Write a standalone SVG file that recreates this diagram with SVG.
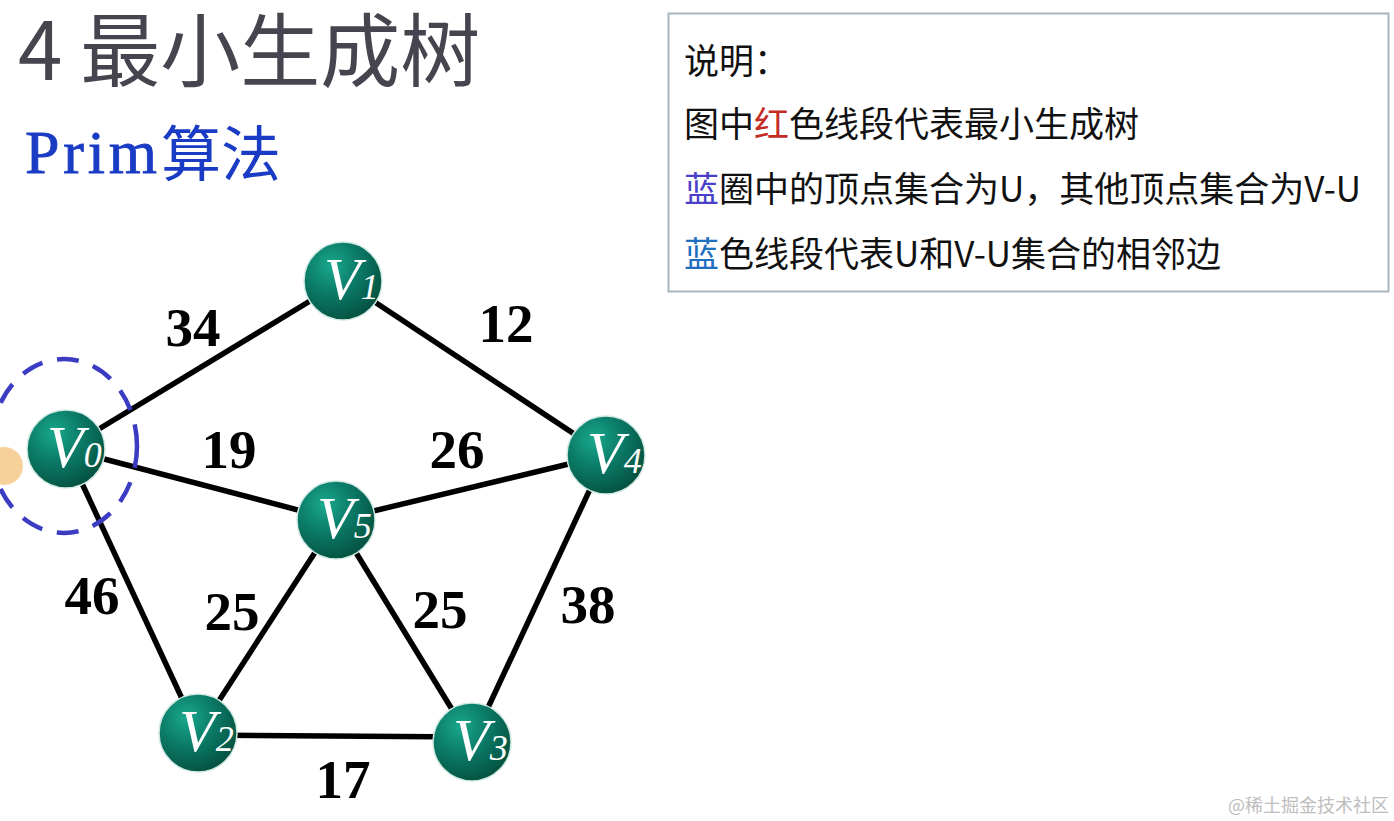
<svg xmlns="http://www.w3.org/2000/svg" width="1394" height="821" viewBox="0 0 1394 821">
<defs>
<radialGradient id="ball" cx="0.35" cy="0.3" r="0.75">
<stop offset="0" stop-color="#1aa88e"/>
<stop offset="0.45" stop-color="#0b7d69"/>
<stop offset="1" stop-color="#04503f"/>
</radialGradient>
<style>
.edge{stroke:#000;stroke-width:5.5;fill:none}
.ball{fill:url(#ball);stroke:#cfe9e2;stroke-width:1.5}
.vl{font-family:"Liberation Serif",serif;font-style:italic;fill:#fff}
.vl .v{font-size:60px}
.vl .d{font-size:36px}
.w{font-family:"Liberation Serif",serif;font-weight:bold;font-size:55px;fill:#000;text-anchor:middle}
.note{font-family:"Noto Sans CJK SC",sans-serif;font-size:35px;fill:#111}
</style>
</defs>
<rect width="1394" height="821" fill="#fff"/>
<g id="title">
<text x="18" y="80" font-family="'Noto Sans CJK SC',sans-serif" font-size="80" fill="#45454f">4 最小生成树</text>
</g>
<g id="subtitle" fill="#1a3bc4">
<text x="25" y="173" font-family="'Liberation Serif',serif" font-size="62" stroke="#1a3bc4" stroke-width="0.8" textLength="132" lengthAdjust="spacing">Prim</text>
<text x="161" y="176" font-family="'Noto Sans CJK SC',sans-serif" font-size="60">算法</text>
</g>
<g id="legend">
<rect x="668.5" y="13.5" width="720" height="278" fill="#fff" stroke="#a7b6bd" stroke-width="2"/>
<text class="note" x="684" y="74">说明：</text>
<text class="note" x="684" y="137">图中<tspan fill="#c42b25">红</tspan>色线段代表最小生成树</text>
<text class="note" x="684" y="202"><tspan fill="#4a3fc8">蓝</tspan>圈中的顶点集合为U，其他顶点集合为V-U</text>
<text class="note" x="684" y="267"><tspan fill="#1f6fbf">蓝</tspan>色线段代表U和V-U集合的相邻边</text>
</g>
<g id="connectors">
<line class="edge" x1="66" y1="449" x2="343" y2="281"/>
<line class="edge" x1="343" y1="281" x2="606" y2="455"/>
<line class="edge" x1="66" y1="449" x2="336" y2="520"/>
<line class="edge" x1="336" y1="520" x2="606" y2="455"/>
<line class="edge" x1="66" y1="449" x2="198" y2="733"/>
<line class="edge" x1="336" y1="520" x2="198" y2="733"/>
<line class="edge" x1="336" y1="520" x2="472" y2="742"/>
<line class="edge" x1="606" y1="455" x2="472" y2="742"/>
<line class="edge" x1="198" y1="735" x2="472" y2="737"/>
</g>
<g id="weights">
<text class="w" x="193" y="346">34</text>
<text class="w" x="506" y="342">12</text>
<text class="w" x="229" y="468">19</text>
<text class="w" x="457" y="468">26</text>
<text class="w" x="92" y="614">46</text>
<text class="w" x="232" y="630">25</text>
<text class="w" x="440" y="628">25</text>
<text class="w" x="588" y="623">38</text>
<text class="w" x="343" y="798">17</text>
</g>
<g id="cursor">
<circle cx="4" cy="466" r="19" fill="#f4c98a" opacity="0.85"/>
</g>
<g id="u-set">
<ellipse cx="64" cy="446" rx="73" ry="87" fill="none" stroke="#3b3cc2" stroke-width="4.5" stroke-dasharray="22 15"/>
</g>
<g id="V0"><circle class="ball" cx="66" cy="449" r="39"/><text class="vl" x="47" y="467"><tspan class="v">V</tspan><tspan class="d">0</tspan></text></g>
<g id="V1"><circle class="ball" cx="343" cy="281" r="39"/><text class="vl" x="324" y="299"><tspan class="v">V</tspan><tspan class="d">1</tspan></text></g>
<g id="V2"><circle class="ball" cx="198" cy="733" r="39"/><text class="vl" x="179" y="751"><tspan class="v">V</tspan><tspan class="d">2</tspan></text></g>
<g id="V3"><circle class="ball" cx="472" cy="742" r="39"/><text class="vl" x="453" y="760"><tspan class="v">V</tspan><tspan class="d">3</tspan></text></g>
<g id="V4"><circle class="ball" cx="606" cy="455" r="39"/><text class="vl" x="587" y="473"><tspan class="v">V</tspan><tspan class="d">4</tspan></text></g>
<g id="V5"><circle class="ball" cx="336" cy="520" r="39"/><text class="vl" x="317" y="538"><tspan class="v">V</tspan><tspan class="d">5</tspan></text></g>
<text x="1389" y="812" text-anchor="end" font-family="'Noto Sans CJK SC',sans-serif" font-size="18" fill="#bdbdbd">@稀土掘金技术社区</text>
</svg>
